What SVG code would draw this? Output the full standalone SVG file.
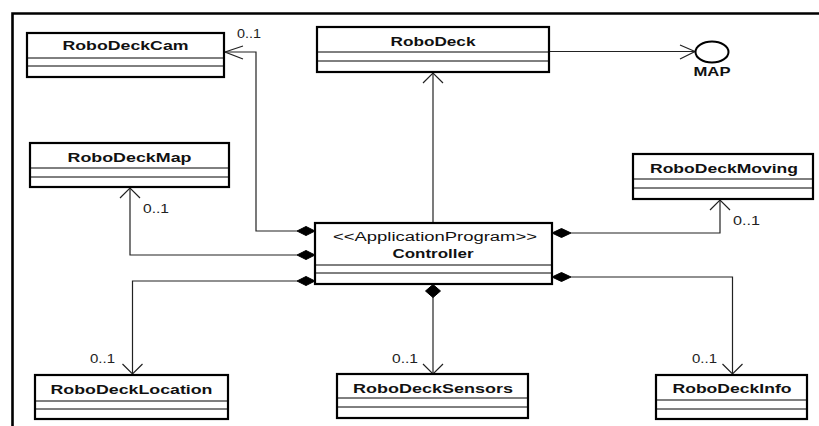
<svg xmlns="http://www.w3.org/2000/svg" width="819" height="426" viewBox="0 0 819 426">
<style>
.box{fill:#fff;stroke:#000;stroke-width:2.2}
.div{stroke:#000;stroke-width:1;fill:none}
.name{font-family:"Liberation Sans",Arial,sans-serif;font-weight:bold;font-size:13px;text-anchor:middle;fill:#111}
.st{font-family:"Liberation Sans",Arial,sans-serif;font-size:12.5px;text-anchor:middle;fill:#111}
.mult{font-family:"Liberation Sans",Arial,sans-serif;font-size:12px;fill:#222}
.ln{fill:none;stroke:#222;stroke-width:1.2}
.arr{fill:none;stroke:#222;stroke-width:1.2}
.dia{fill:#000;stroke:#000;stroke-width:1}
.frame{fill:none;stroke:#000;stroke-width:2.6}
</style>
<rect width="819" height="426" fill="#fff"/>
<polyline class="frame" points="12.5,426 12.5,13.5 819,13.5"/>

<g id="connectors">
  <!-- Controller -> RoboDeckCam -->
  <polyline class="ln" points="297,231 256,231 256,52 225,52"/>
  <polyline class="arr" points="243,46 225,52 243,59"/>
  <polygon class="dia" points="315,231 306,226.5 297,231 306,235.5"/>
  <text class="mult" x="237" y="38" textLength="24" lengthAdjust="spacingAndGlyphs">0..1</text>
  <!-- Controller -> RoboDeckMap -->
  <polyline class="ln" points="297,255 130,255 130,188"/>
  <polyline class="arr" points="120,198 130,188 140,198"/>
  <polygon class="dia" points="315,255 306,250.5 297,255 306,259.5"/>
  <text class="mult" x="143" y="213" textLength="26" lengthAdjust="spacingAndGlyphs">0..1</text>
  <!-- Controller -> RoboDeckLocation -->
  <polyline class="ln" points="297,281 132.5,281 132.5,374"/>
  <polyline class="arr" points="122.5,364 132.5,374 142.5,364"/>
  <polygon class="dia" points="315,281 306,276.5 297,281 306,285.5"/>
  <text class="mult" x="90" y="363" textLength="25" lengthAdjust="spacingAndGlyphs">0..1</text>
  <!-- Controller -> RoboDeck -->
  <line class="ln" x1="433" y1="223" x2="433" y2="73"/>
  <polyline class="arr" points="423,83 433,73 443,83"/>
  <!-- Controller -> RoboDeckSensors -->
  <line class="ln" x1="433" y1="297" x2="433" y2="374"/>
  <polyline class="arr" points="423,364 433,374 443,364"/>
  <polygon class="dia" points="433,284.5 440.5,291 433,297.5 425.5,291"/>
  <text class="mult" x="392" y="363" textLength="26" lengthAdjust="spacingAndGlyphs">0..1</text>
  <!-- Controller -> RoboDeckMoving -->
  <polyline class="ln" points="571,233 720,233 720,200"/>
  <polyline class="arr" points="710,210 720,200 730,210"/>
  <polygon class="dia" points="552,233 561.5,228.5 571,233 561.5,237.5"/>
  <text class="mult" x="733" y="225" textLength="27" lengthAdjust="spacingAndGlyphs">0..1</text>
  <!-- Controller -> RoboDeckInfo -->
  <polyline class="ln" points="571,277 732.5,277 732.5,374"/>
  <polyline class="arr" points="722.5,364 732.5,374 742.5,364"/>
  <polygon class="dia" points="552,277 561.5,272.5 571,277 561.5,281.5"/>
  <text class="mult" x="692" y="363" textLength="25" lengthAdjust="spacingAndGlyphs">0..1</text>
  <!-- RoboDeck -> MAP -->
  <line class="ln" x1="550" y1="51.5" x2="695" y2="51.5"/>
  <polyline class="arr" points="680,45 695,51.5 680,59"/>
</g>

<g id="MAP">
  <ellipse cx="712" cy="52" rx="16.5" ry="10.5" fill="#fff" stroke="#000" stroke-width="2"/>
  <text class="name" x="712" y="76" style="font-size:12px" textLength="37" lengthAdjust="spacingAndGlyphs">MAP</text>
</g>

<g id="RoboDeckCam">
  <rect class="box" x="27" y="33" width="197" height="44"/>
  <line class="div" x1="27" y1="58" x2="224" y2="58"/>
  <line class="div" x1="27" y1="66" x2="224" y2="66"/>
  <text class="name" x="125.5" y="50" textLength="126" lengthAdjust="spacingAndGlyphs">RoboDeckCam</text>
</g>

<g id="RoboDeck">
  <rect class="box" x="317" y="27" width="232" height="45"/>
  <line class="div" x1="317" y1="52" x2="549" y2="52"/>
  <line class="div" x1="317" y1="61" x2="549" y2="61"/>
  <text class="name" x="433" y="46" textLength="85" lengthAdjust="spacingAndGlyphs">RoboDeck</text>
</g>

<g id="RoboDeckMap">
  <rect class="box" x="30" y="143" width="199" height="44"/>
  <line class="div" x1="30" y1="168" x2="229" y2="168"/>
  <line class="div" x1="30" y1="177" x2="229" y2="177"/>
  <text class="name" x="129.5" y="162" textLength="124" lengthAdjust="spacingAndGlyphs">RoboDeckMap</text>
</g>

<g id="RoboDeckMoving">
  <rect class="box" x="633" y="154" width="180" height="45"/>
  <line class="div" x1="633" y1="179" x2="813" y2="179"/>
  <line class="div" x1="633" y1="188" x2="813" y2="188"/>
  <text class="name" x="724" y="173" textLength="148" lengthAdjust="spacingAndGlyphs">RoboDeckMoving</text>
</g>

<g id="Controller">
  <rect class="box" x="315" y="223" width="237" height="61"/>
  <line class="div" x1="315" y1="265" x2="552" y2="265"/>
  <line class="div" x1="315" y1="273" x2="552" y2="273"/>
  <text class="st" x="435" y="241" textLength="204" lengthAdjust="spacingAndGlyphs">&lt;&lt;ApplicationProgram&gt;&gt;</text>
  <text class="name" x="433" y="258" textLength="81" lengthAdjust="spacingAndGlyphs">Controller</text>
</g>

<g id="RoboDeckLocation">
  <rect class="box" x="35" y="375" width="193" height="44"/>
  <line class="div" x1="35" y1="401" x2="228" y2="401"/>
  <line class="div" x1="35" y1="409" x2="228" y2="409"/>
  <text class="name" x="131.5" y="394" textLength="162" lengthAdjust="spacingAndGlyphs">RoboDeckLocation</text>
</g>

<g id="RoboDeckSensors">
  <rect class="box" x="337" y="374" width="191" height="44"/>
  <line class="div" x1="337" y1="398" x2="528" y2="398"/>
  <line class="div" x1="337" y1="407" x2="528" y2="407"/>
  <text class="name" x="433" y="393" textLength="160" lengthAdjust="spacingAndGlyphs">RoboDeckSensors</text>
</g>

<g id="RoboDeckInfo">
  <rect class="box" x="656" y="375" width="151" height="44"/>
  <line class="div" x1="656" y1="400" x2="807" y2="400"/>
  <line class="div" x1="656" y1="409" x2="807" y2="409"/>
  <text class="name" x="732" y="393" textLength="119" lengthAdjust="spacingAndGlyphs">RoboDeckInfo</text>
</g>
</svg>
